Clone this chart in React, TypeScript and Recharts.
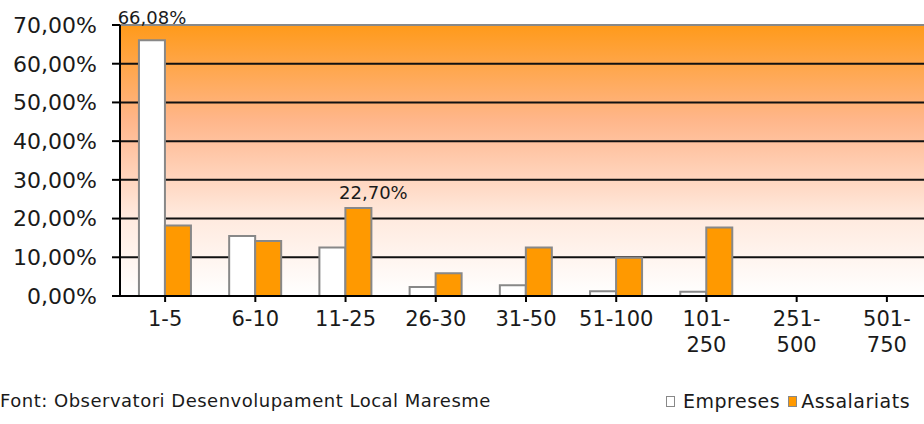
import { BarChart, Bar, XAxis, YAxis, CartesianGrid, ReferenceLine } from 'recharts'

const categories = ['1-5', '6-10', '11-25', '26-30', '31-50', '51-100', '101-250', '251-500', '501-750']
const empreses = [66.08, 15.5, 12.5, 2.3, 2.8, 1.2, 1.1, 0, 0]
const assalariats = [18.2, 14.2, 22.7, 5.9, 12.5, 9.9, 17.7, 0, 0]
const yTicks = [0, 10, 20, 30, 40, 50, 60, 70]
// index of the bars that carry a value label
const empresesLabelled = [0]
const assalariatsLabelled = [2]

const data = categories.map((c, i) => ({ cat: c, Empreses: empreses[i], Assalariats: assalariats[i] }))

const FONT = '"DejaVu Sans", Verdana, sans-serif'
const pct = (v: number) => `${v.toFixed(2).replace('.', ',')}%`

function CategoryTick({ x, y, payload }: any) {
  const label = String(payload.value)
  const cut = label.indexOf('-') + 1
  const lines = label.length > 6 ? [label.slice(0, cut), label.slice(cut)] : [label]
  return (
    <text x={x} y={y} textAnchor="middle" fontSize={21} fill="#1a1a1a" fontFamily={FONT}>
      {lines.map((l, i) => (
        <tspan key={i} x={x} dy={i === 0 ? '0.71em' : 26}>{l}</tspan>
      ))}
    </text>
  )
}

const makeLabel = (shown: number[], dx: number, lift: number) => (p: any) => {
  if (!shown.includes(p.index)) return null
  return (
    <text x={p.x + p.width / 2 + dx} y={p.y - lift} textAnchor="middle" fontSize={18} fill="#1a1a1a" fontFamily={FONT}>
      {pct(Number(p.value))}
    </text>
  )
}

export default function App() {
  return (
    <div style={{ position: 'absolute', left: 0, top: 0, width: 924, height: 424, overflow: 'hidden', background: '#fff', fontFamily: FONT }}>
      <BarChart width={932} height={424} data={data} margin={{ top: 25, right: 0, bottom: 48, left: 0 }}
        barCategoryGap="21%" barGap={0}>
        <defs>
          <linearGradient id="plotBg" x1="0" y1="0" x2="0" y2="1">
            <stop offset="0" stopColor="#FF9A1A" />
            <stop offset="0.35" stopColor="#FFB68A" />
            <stop offset="0.5" stopColor="#FFCBAE" />
            <stop offset="0.7" stopColor="#FFE9DD" />
            <stop offset="1" stopColor="#FFFFFF" />
          </linearGradient>
        </defs>
        <CartesianGrid vertical={false} fill="url(#plotBg)" stroke="#111" strokeWidth={2} strokeOpacity={1} />
        <ReferenceLine y={70} stroke="#888" strokeWidth={2} />
        <XAxis dataKey="cat" height={80} interval={0} tick={<CategoryTick />}
          axisLine={{ stroke: '#000', strokeWidth: 2 }} tickLine={{ stroke: '#000', strokeWidth: 2 }}
          tickSize={6} tickMargin={9} />
        <YAxis width={120} domain={[0, 70]} ticks={yTicks} tickFormatter={pct} interval={0}
          tick={{ fontSize: 22, fill: '#1a1a1a', fontFamily: FONT }}
          axisLine={{ stroke: '#000', strokeWidth: 2 }} tickLine={{ stroke: '#000', strokeWidth: 2 }}
          tickSize={8} tickMargin={15} />
        <Bar dataKey="Empreses" fill="#FFFFFF" stroke="#888" strokeWidth={2} isAnimationActive={false}
          label={makeLabel(empresesLabelled, 0, 16)} />
        <Bar dataKey="Assalariats" fill="#FF9900" stroke="#888" strokeWidth={2} isAnimationActive={false}
          label={makeLabel(assalariatsLabelled, 15, 9)} />
      </BarChart>
      <div style={{ position: 'absolute', left: 0, top: 390, fontSize: 18, letterSpacing: 0.5, color: '#1a1a1a', whiteSpace: 'nowrap' }}>
        Font: Observatori Desenvolupament Local Maresme
      </div>
      <div style={{ position: 'absolute', left: 666, top: 390, fontSize: 19, letterSpacing: 0.5, color: '#1a1a1a', whiteSpace: 'nowrap', display: 'flex', alignItems: 'center' }}>
        <span style={{ display: 'inline-block', width: 7, height: 9, border: '1px solid #888', background: '#fff', marginRight: 8 }} />
        <span style={{ marginRight: 8 }}>Empreses</span>
        <span style={{ display: 'inline-block', width: 7, height: 9, border: '1px solid #888', background: '#FF9900', marginRight: 4 }} />
        <span>Assalariats</span>
      </div>
    </div>
  )
}
